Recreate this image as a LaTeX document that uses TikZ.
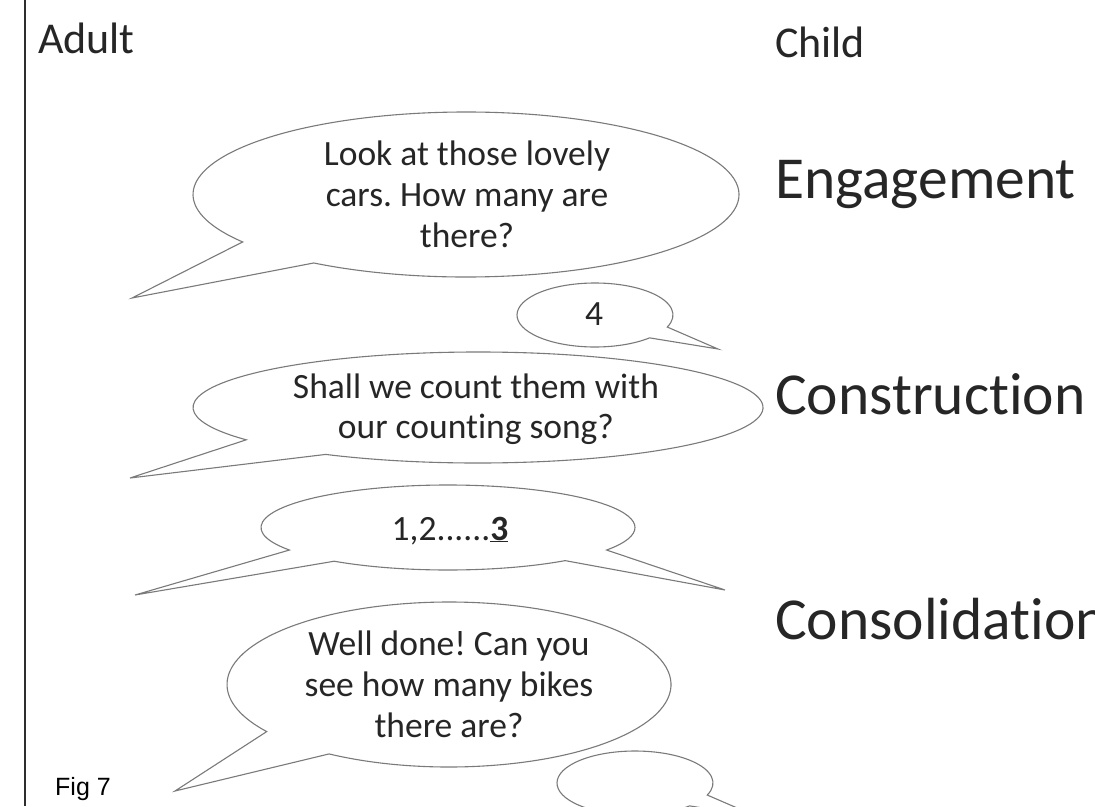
\documentclass[tikz,border=0pt]{standalone}
\usepackage{fontspec}
\setmainfont{Carlito}[Ligatures=NoCommon]
\newfontfamily\figfont{Liberation Sans}
\usetikzlibrary{calc}
\definecolor{bubblegray}{HTML}{7A7A7A}
\definecolor{ink}{HTML}{262626}
\definecolor{rulegray}{HTML}{2E2E2E}
\frenchspacing
\begin{document}
\begin{tikzpicture}[x=1pt,y=-1pt,
  bubble/.style={draw=bubblegray, line width=1.1pt, line join=miter},
  lbl/.style={inner sep=0pt, text=ink, anchor=base},
  saytext/.style={lbl, font=\fontsize{35.5}{41}\selectfont},
  head/.style={inner sep=0pt, text=ink, anchor=base west, font=\fontsize{44}{50}\selectfont},
  stage/.style={inner sep=0pt, text=ink, anchor=base west, font=\fontsize{59.5}{66}\selectfont}]
\useasboundingbox (0,0) rectangle (1095,806);
\clip (0,0) rectangle (1095,806);
\fill[white] (0,0) rectangle (1095,806);

% left rule
\coordinate (rtop) at (25,0);
\coordinate (rbot) at (25,806);
\draw[rulegray, line width=2.2pt] (rtop) -- (rbot);

% headings
\node[head] (adult) at (38,53) {Adult};
\node[head] (child) at (775,57) {Child};
\node[stage] (eng) at (775,198) {Engagement};
\node[stage] (constr) at (775,414) {Construction};
\node[stage] (consol) at (775,639) {Consolidation};
\node[inner sep=0pt, anchor=base west, text=black, font=\figfont\fontsize{25}{30}\selectfont] (fig) at (55,795) {Fig 7};

% centres and tips of the bubbles
\coordinate (c1) at (466,194.5);  \coordinate (t1) at (132,298);
\coordinate (c2) at (595,315);    \coordinate (t2) at (718,349);
\coordinate (c3) at (478,407.5);  \coordinate (t3) at (130,478);
\coordinate (c4) at (448,527.5);  \coordinate (t4a) at (135,595); \coordinate (t4b) at (725,590);
\coordinate (c5) at (449,684.5);  \coordinate (t5) at (175,791);
\coordinate (c6) at (635,783);    \coordinate (t6) at (758,817);

% bubble 1
\draw[bubble] ($(c1)+(123.9:273 and 82.5)$) arc[start angle=123.9, end angle=-215.1, x radius=273, y radius=82.5] -- (t1) -- cycle;
% bubble 2
\draw[bubble] ($(c2)+(45.6:78 and 32)$) arc[start angle=45.6, end angle=382.1, x radius=78, y radius=32] -- (t2) -- cycle;
% bubble 3
\draw[bubble] ($(c3)+(122.3:285 and 55.5)$) arc[start angle=122.3, end angle=-215.6, x radius=285, y radius=55.5] -- (t3) -- cycle;
% bubble 4 (two tails)
\draw[bubble] ($(c4)+(51.2:187 and 42.5)$) arc[start angle=51.2, end angle=127.5, x radius=187, y radius=42.5] -- (t4a)
  -- ($(c4)+(148:187 and 42.5)$) arc[start angle=148, end angle=392, x radius=187, y radius=42.5] -- (t4b) -- cycle;
% bubble 5
\draw[bubble] ($(c5)+(122.7:222 and 82.5)$) arc[start angle=122.7, end angle=-214.8, x radius=222, y radius=82.5] -- (t5) -- cycle;
% bubble 6 (cut off at the bottom)
\draw[bubble] ($(c6)+(45.6:78 and 32)$) arc[start angle=45.6, end angle=382.1, x radius=78, y radius=32] -- (t6) -- cycle;

% bubble texts
\node[saytext] (b1a) at (467,165) {Look at those lovely};
\node[saytext] (b1b) at (467,206) {cars. How many are};
\node[saytext] (b1c) at (467,247) {there?};
\node[saytext] (b2a) at (594,325) {4};
\node[saytext] (b3a) at (476,398) {Shall we count them with};
\node[saytext] (b3b) at (476,438) {our counting song?};
\node[saytext] (b4a) at (450,540) {1,2......\underline{\textbf{3}}};
\node[saytext] (b5a) at (449,655) {Well done! Can you};
\node[saytext] (b5b) at (449,696) {see how many bikes};
\node[saytext] (b5c) at (449,737) {there are?};
\end{tikzpicture}
\end{document}
